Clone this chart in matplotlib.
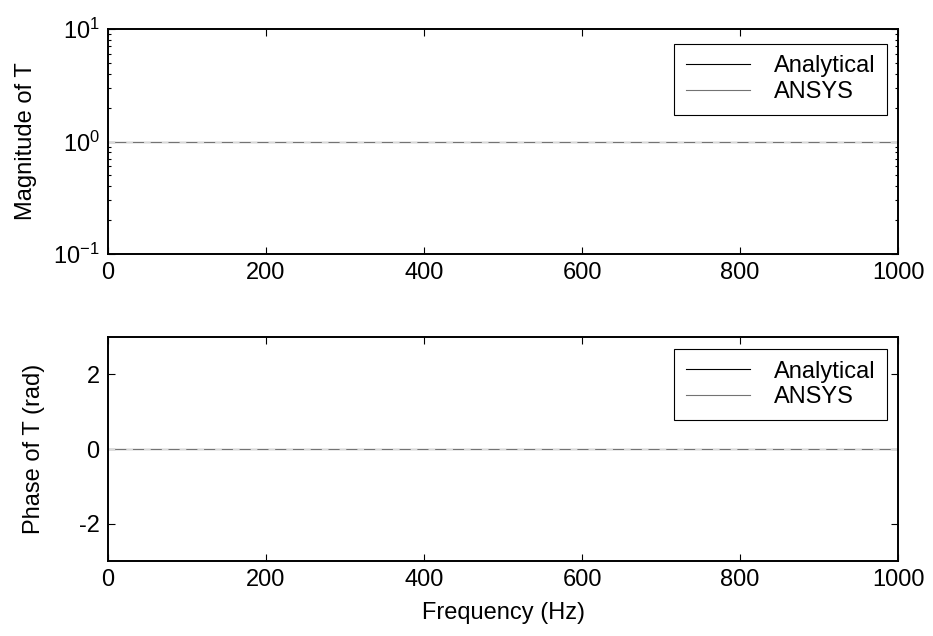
"""
Transmissibility T: analytical vs ANSYS
"""
import matplotlib
matplotlib.use("Agg")
import matplotlib.pyplot as plt
from matplotlib.ticker import LogLocator, NullFormatter

# data (flat response)
freq = [0, 100, 200, 300, 400, 500, 600, 700, 800, 900, 1000]
mag_analytical = [1.0, 1.0, 1.0, 1.0, 1.0, 1.0, 1.0, 1.0, 1.0, 1.0, 1.0]
mag_ansys = [1.0, 1.0, 1.0, 1.0, 1.0, 1.0, 1.0, 1.0, 1.0, 1.0, 1.0]
phase_analytical = [0.0, 0.0, 0.0, 0.0, 0.0, 0.0, 0.0, 0.0, 0.0, 0.0, 0.0]
phase_ansys = [0.0, 0.0, 0.0, 0.0, 0.0, 0.0, 0.0, 0.0, 0.0, 0.0, 0.0]
series_labels = ["Analytical", "ANSYS"]
x_ticks = [0, 200, 400, 600, 800, 1000]
mag_ticks = [0.1, 1, 10]
mag_ticklabels = ["$10^{-1}$", "$10^{0}$", "$10^{1}$"]
phase_ticks = [-2, 0, 2]

plt.rcParams["font.family"] = ["Liberation Sans", "DejaVu Sans"]
plt.rcParams["font.size"] = 17
plt.rcParams["mathtext.fontset"] = "custom"
plt.rcParams["mathtext.rm"] = "Liberation Sans"
plt.rcParams["mathtext.it"] = "Liberation Sans"
plt.rcParams["axes.unicode_minus"] = False

fig = plt.figure(figsize=(9.33, 6.36), dpi=100)
ax1 = fig.add_axes([0.1158, 0.6006, 0.8467, 0.3538])
ax2 = fig.add_axes([0.1158, 0.1180, 0.8467, 0.3520])

# magnitude
ax1.semilogy(freq, mag_analytical, color="black", lw=0.8, label=series_labels[0])
ax1.semilogy(freq, mag_ansys, color="0.45", lw=0.8, label=series_labels[1])
ax1.semilogy(freq, mag_ansys, color="0.85", lw=0.8, dashes=(6, 10))
ax1.set_ylim(0.1, 10)
ax1.set_yticks(mag_ticks)
ax1.set_yticklabels(mag_ticklabels)
ax1.set_ylabel("Magnitude of T", labelpad=12)
ax1.yaxis.set_minor_locator(LogLocator(base=10, subs=range(2, 10)))
ax1.yaxis.set_minor_formatter(NullFormatter())

# phase
ax2.plot(freq, phase_analytical, color="black", lw=0.8, label=series_labels[0])
ax2.plot(freq, phase_ansys, color="0.45", lw=0.8, label=series_labels[1])
ax2.plot(freq, phase_ansys, color="0.85", lw=0.8, dashes=(6, 10))
ax2.set_ylim(-3, 3)
ax2.set_yticks(phase_ticks)
ax2.set_yticklabels([str(t) for t in phase_ticks])
ax2.set_ylabel("Phase of T (rad)", labelpad=24)
ax2.set_xlabel("Frequency (Hz)", labelpad=8)

for ax, top in ((ax1, 0.935), (ax2, 0.948)):
    ax.set_xlim(0, 1000)
    ax.set_xticks(x_ticks)
    for sp in ax.spines.values():
        sp.set_linewidth(1.4)
    ax.tick_params(which="both", direction="in", top=True, right=True,
                   length=5, width=0.8, pad=6)
    ax.tick_params(which="minor", length=2.5)
    leg = ax.legend(loc="upper right", fancybox=False, framealpha=1,
                    edgecolor="black", handlelength=2.7, handletextpad=1.0,
                    borderpad=0.5, labelspacing=0.15, borderaxespad=0,
                    bbox_to_anchor=(0.986, top))
    leg.get_frame().set_linewidth(0.8)

fig.savefig("out.png", dpi=100)
